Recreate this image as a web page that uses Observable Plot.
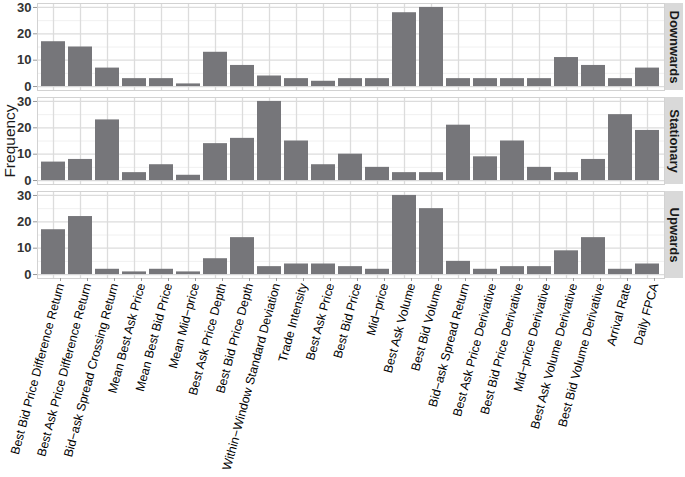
<!DOCTYPE html>
<html><head><meta charset="utf-8">
<script src="https://cdn.jsdelivr.net/npm/d3@7"></script>
<script src="https://cdn.jsdelivr.net/npm/@observablehq/plot@0.6"></script>
<style>body{margin:0;background:#fff;}</style>
</head><body><div id="chart"></div>
<script>
const categories = [
  "Best Bid Price Difference Return",
  "Best Ask Price Difference Return",
  "Bid\u2212ask Spread Crossing Return",
  "Mean Best Ask Price",
  "Mean Best Bid Price",
  "Mean Mid\u2212price",
  "Best Ask Price Depth",
  "Best Bid Price Depth",
  "Within\u2212Window Standard Deviation",
  "Trade Intensity",
  "Best Ask Price",
  "Best Bid Price",
  "Mid\u2212price",
  "Best Ask Volume",
  "Best Bid Volume",
  "Bid\u2212ask Spread Return",
  "Best Ask Price Derivative",
  "Best Bid Price Derivative",
  "Mid\u2212price Derivative",
  "Best Ask Volume Derivative",
  "Best Bid Volume Derivative",
  "Arrival Rate",
  "Daily FPCA"
];
const directions = ["Downwards", "Stationary", "Upwards"];
const downwards  = [17, 15, 7, 3, 3, 1, 13, 8, 4, 3, 2, 3, 3, 28, 30, 3, 3, 3, 3, 11, 8, 3, 7];
const stationary = [7, 8, 23, 3, 6, 2, 14, 16, 30, 15, 6, 10, 5, 3, 3, 21, 9, 15, 5, 3, 8, 25, 19];
const upwards    = [17, 22, 2, 1, 2, 1, 6, 14, 3, 4, 4, 3, 2, 30, 25, 5, 2, 3, 3, 9, 14, 2, 4];
const yTicks = [0, 10, 20, 30];
const yMinorTicks = [5, 15, 25];
const yLabel = "Frequency";

const series = {Downwards: downwards, Stationary: stationary, Upwards: upwards};
const data = directions.flatMap(dir => categories.map((c, i) => ({direction: dir, feature: c, count: series[dir][i]})));

const W = 685, H = 477, mL = 37, mR = 21, mT = 3, mB = 198;
const chart = Plot.plot({
  width: W, height: H,
  marginLeft: mL, marginRight: mR, marginTop: mT, marginBottom: mB,
  style: {fontFamily: "'Liberation Sans', Arial, sans-serif", background: "#fff", color: "#1a1a1a"},
  x: {domain: categories, paddingInner: 0.1, paddingOuter: 0.15, label: null},
  y: {domain: [-1.5, 31.5], label: null},
  fy: {domain: directions, paddingInner: 0.07, paddingOuter: 0, axis: null, label: null},
  marks: [
    Plot.gridY(yMinorTicks, {stroke: "#ececec", strokeOpacity: 1, strokeWidth: 0.8}),
    Plot.gridY(yTicks, {stroke: "#dcdcdc", strokeOpacity: 1, strokeWidth: 1.3}),
    Plot.gridX({stroke: "#dcdcdc", strokeOpacity: 1, strokeWidth: 1.3}),
    Plot.barY(data, {x: "feature", y: "count", fy: "direction", fill: "#76767a"}),
    Plot.frame({stroke: "#d2d2d2"}),
    Plot.axisY(yTicks, {tickSize: 4, stroke: "#999", fill: "#333", fontWeight: "bold", fontSize: 13, tickPadding: 2, label: null}),
    Plot.axisX({tickSize: 3, stroke: "#999", fill: "#000", tickRotate: -75, fontSize: 12.3, tickPadding: 2, dx: 7, label: null}),
    Plot.rect(directions, {fy: d => d, fill: "#d9d9d9", insetLeft: W - mL - mR + 1, insetRight: -19}),
    Plot.text(directions, {fy: d => d, text: d => d, frameAnchor: "right", textAnchor: "middle", dx: 10, rotate: 90, fontWeight: "bold", fontSize: 13, fill: "#1a1a1a"}),
    Plot.text([yLabel], {fy: () => "Stationary", text: d => d, frameAnchor: "left", textAnchor: "middle", dx: -27, rotate: -90, fontSize: 15.5, fill: "#1a1a1a"})
  ]
});
document.getElementById("chart").appendChild(chart);
</script>
</body></html>
